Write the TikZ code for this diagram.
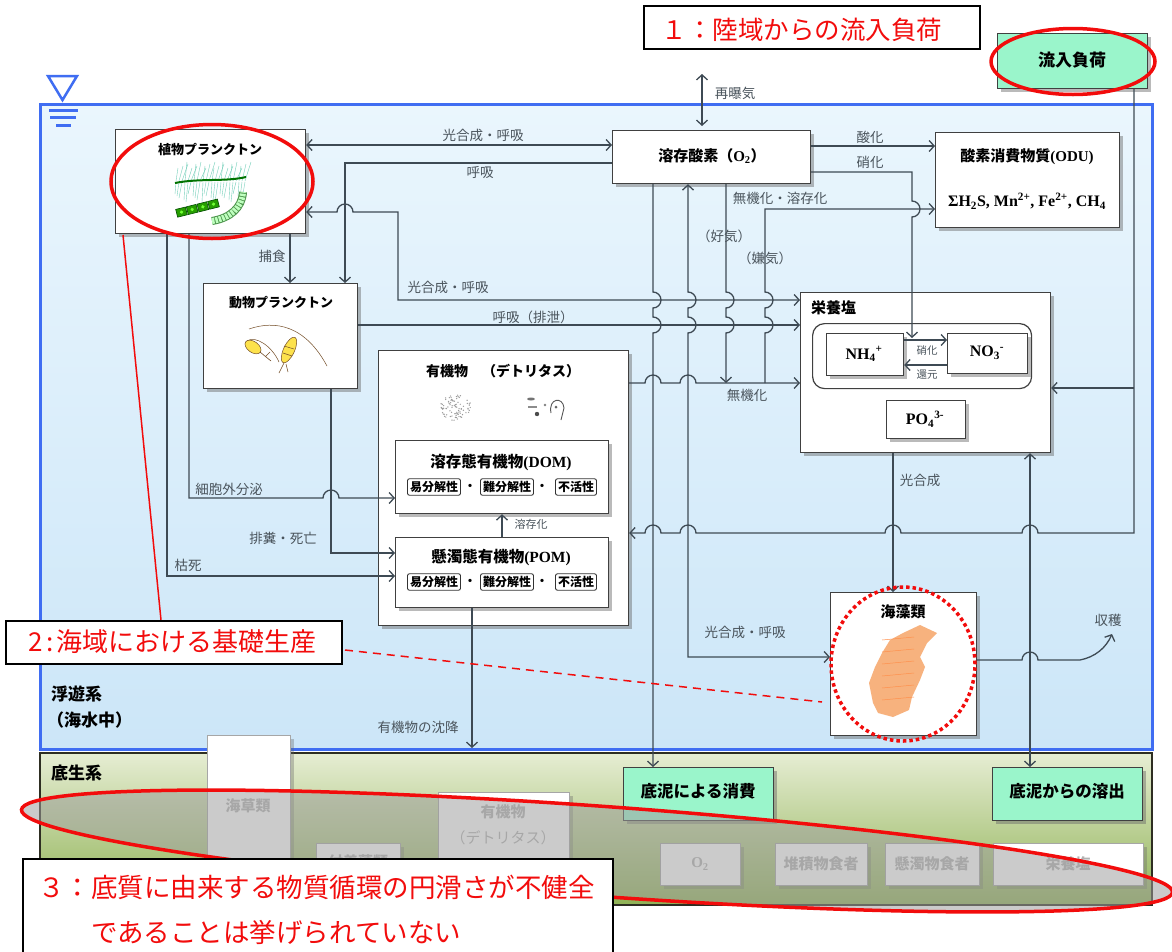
\documentclass[tikz,border=0pt]{standalone}
\usepackage{fontspec}
\setmainfont{Noto Sans CJK JP}
\newfontfamily\tm{Liberation Serif}
\usetikzlibrary{positioning,arrows.meta,shadows}

\newcommand\fsz[1]{\fontsize{#1}{#1}\selectfont}
% line hops over crossing wires (radius 8)
\newcommand\hopE[2]{-- (#1-8,#2) arc[start angle=180,end angle=0,radius=8pt]}
\newcommand\hopW[2]{-- (#1+8,#2) arc[start angle=0,end angle=180,radius=8pt]}
\newcommand\hopS[2]{-- (#1,#2-8) arc[start angle=90,end angle=-90,radius=8pt]}
\newcommand\hopN[2]{-- (#1,#2+8) arc[start angle=-90,end angle=90,radius=8pt]}

\definecolor{lineC}{HTML}{3E4A54}
\definecolor{labelC}{HTML}{4A545C}
\definecolor{seaTop}{HTML}{EAF6FD}
\definecolor{seaBot}{HTML}{CCE6F8}
\definecolor{seaEdge}{HTML}{3F6DF2}
\definecolor{mudTop}{HTML}{E6EDD3}
\definecolor{mudBot}{HTML}{8FB255}
\definecolor{mudEdge}{HTML}{2E2E22}
\definecolor{mint}{HTML}{9AF5CB}
\definecolor{noteRed}{HTML}{F20C0C}
\definecolor{kelp}{HTML}{F7B27E}

\tikzset{
  box/.style={draw=black!75, fill=white, line width=1.2pt, inner sep=0pt, anchor=north west,
    drop shadow={shadow xshift=3pt, shadow yshift=-3pt, fill=black!60, opacity=.45}},
  mintbox/.style={box, fill=mint},
  ghost/.style={draw=black!35, fill=white, line width=1pt, inner sep=0pt, anchor=north west,
    drop shadow={shadow xshift=3pt, shadow yshift=-3pt, fill=black!60, opacity=.35}},
  ghosttext/.style={text=black!30, font=\bfseries\fsz{15}, inner sep=0pt},
  title/.style={font=\bfseries\fsz{13}, inner sep=0pt},
  lbl/.style={text=labelC, font=\fsz{13.5}, inner sep=0pt},
  small/.style={text=labelC, font=\fsz{11}, inner sep=0pt},
  tag/.style={draw=black!80, rounded corners=2pt, line width=0.9pt, fill=white,
    font=\bfseries\fsz{12}, inner sep=2.5pt},
  flow/.style={draw=lineC, line width=1.3pt, -{Straight Barb[length=5pt,width=11pt]}},
  flow2/.style={flow, {Straight Barb[length=5pt,width=11pt]}-{Straight Barb[length=5pt,width=11pt]}},
  note/.style={draw=black, line width=1.8pt, fill=white, anchor=north west},
  notetext/.style={text=noteRed, inner sep=0pt},
  ring/.style={draw=noteRed, line width=3.5pt}
}

\begin{document}
\begin{tikzpicture}[x=1pt,y=-1pt]
\useasboundingbox (0,0) rectangle (1172,951);
\fill[white] (0,0) rectangle (1172,951);

% sediment and water column
\draw[mudEdge, line width=2.5pt, top color=mudTop, bottom color=mudBot] (40,753) rectangle (1152,905);
\draw[seaEdge, line width=3pt, top color=seaTop, bottom color=seaBot] (40,104) rectangle (1152,749);

% water surface mark
\draw[seaEdge, line width=2.5pt, line join=miter] (48,76) -- (77,76) -- (62.5,100) -- cycle;
\draw[seaEdge, line width=3pt] (49,110) -- (78,110) (50,117) -- (76,117) (56,125) -- (71,125);

\node[font=\bfseries\fsz{17}, anchor=west, inner sep=0pt] (pelagic) at (51,694) {浮遊系};
\node[font=\bfseries\fsz{17}, anchor=west, inner sep=0pt] at (47,720) {（海水中）};
\node[font=\bfseries\fsz{17}, anchor=west, inner sep=0pt] (benthic) at (51,773) {底生系};

% benthic compartments (greyed out)
\node[ghost, minimum width=83, minimum height=150] (grass) at (207,735) {};
\node[ghosttext] at (248,806) {海草類};
\node[ghost, minimum width=84, minimum height=40] (epi) at (316,843) {};
\node[ghosttext] at (358,862) {付着藻類};
\node[ghost, minimum width=131, minimum height=90] (detb) at (438,792) {};
\node[ghosttext] at (503,812) {有機物};
\node[ghosttext, font=\fsz{15}] at (503,838) {（デトリタス）};
\node[ghost, minimum width=80, minimum height=42] (o2b) at (660,843) {};
\node[ghosttext] at (700,864) {{\tm O\textsubscript{2}}};
\node[ghost, minimum width=92, minimum height=42] (dep) at (775,843) {};
\node[ghosttext] at (821,864) {堆積物食者};
\node[ghost, minimum width=94, minimum height=42] (sus) at (885,843) {};
\node[ghosttext] at (932,864) {懸濁物食者};
\node[ghost, minimum width=150, minimum height=42] (nutb) at (993,843) {};
\node[ghosttext] at (1068,864) {栄養塩};

\node[mintbox, minimum width=150, minimum height=53] (sedcons) at (623,767) {};
\node[font=\bfseries\fsz{16.5}, inner sep=0pt] at (698,791) {底泥による消費};
\node[mintbox, minimum width=150, minimum height=53] (sedrel) at (992,767) {};
\node[font=\bfseries\fsz{16.5}, inner sep=0pt] at (1067,791) {底泥からの溶出};

% pelagic compartments
\node[mintbox, minimum width=150, minimum height=55] (inflow) at (997,33) {};
\node[font=\bfseries\fsz{17}, inner sep=0pt] at (1072,60) {流入負荷};

\node[box, minimum width=190, minimum height=104] (phyto) at (115,129) {};
\node[title] at (210,149) {植物プランクトン};

\node[box, minimum width=154, minimum height=105] (zoo) at (203,283) {};
\node[title] at (281,303) {動物プランクトン};

\node[box, minimum width=198, minimum height=53] (o2) at (612,130) {};
\node[font=\bfseries\fsz{15}, inner sep=0pt] at (712,156) {溶存酸素（{\tm O\textsubscript{2}}）};

\node[box, minimum width=184, minimum height=95] (odu) at (935,132) {};
\node[font=\bfseries\fsz{15}, inner sep=0pt] at (1027,157) {酸素消費物質{\tm (ODU)}};
\node[font=\tm\bfseries\fsz{16}, inner sep=0pt] at (1027,201)
  {ΣH\textsubscript{2}S, Mn\textsuperscript{2+}, Fe\textsuperscript{2+}, CH\textsubscript{4}};

\node[box, minimum width=250, minimum height=275] (detritus) at (378,350) {};
\node[font=\bfseries\fsz{14}, inner sep=0pt] at (503,371) {有機物　（デトリタス）};
\node[box, minimum width=213, minimum height=73] (dom) at (395,440) {};
\node[font=\bfseries\fsz{15.5}, inner sep=0pt] at (501,462) {溶存態有機物{\tm (DOM)}};
\node[box, minimum width=213, minimum height=70] (pom) at (395,537) {};
\node[font=\bfseries\fsz{15.5}, inner sep=0pt] at (501,557) {懸濁態有機物{\tm (POM)}};
\foreach \row/\yy in {dom/487,pom/582}{
  \node[tag] (\row-easy) at (434,\yy) {易分解性};
  \node[tag] (\row-hard) at (507,\yy) {難分解性};
  \node[tag] (\row-inert) at (576,\yy) {不活性};
  \node[font=\bfseries\fsz{12}, inner sep=0pt] at (470,\yy) {・};
  \node[font=\bfseries\fsz{12}, inner sep=0pt] at (542,\yy) {・};
}

\node[box, minimum width=250, minimum height=160] (nutr) at (800,292) {};
\node[font=\bfseries\fsz{15}, anchor=west, inner sep=0pt] at (811,308) {栄養塩};
\node[draw=black!75, line width=1.2pt, rounded corners=12pt, anchor=north west,
  minimum width=219, minimum height=65] (ninner) at (812,323) {};
\node[box, minimum width=77, minimum height=42] (nh4) at (826,333) {};
\node[font=\tm\bfseries\fsz{16}, inner sep=0pt] at (864,354) {NH\textsubscript{4}\textsuperscript{+}};
\node[box, minimum width=80, minimum height=40] (no3) at (947,333) {};
\node[font=\tm\bfseries\fsz{16}, inner sep=0pt] at (987,353) {NO\textsubscript{3}\textsuperscript{-}};
\node[box, minimum width=79, minimum height=38] (po4) at (886,400) {};
\node[font=\tm\bfseries\fsz{16}, inner sep=0pt] at (925,419) {PO\textsubscript{4}\textsuperscript{3-}};

\node[box, minimum width=146, minimum height=143] (seaweed) at (830,592) {};
\node[font=\bfseries\fsz{15}, inner sep=0pt] at (903,612) {海藻類};

% phytoplankton sketch
\foreach \k in {0,...,23}{
  \pgfmathsetmacro\xa{176+3*\k}
  \draw[cyan!45!green!55, line width=0.4pt] (\xa,181) -- ++({2+mod(\k,3)*2},{-13-mod(\k,4)*2});
  \draw[cyan!45!green!55, line width=0.4pt] (\xa,182) -- ++({-1-mod(\k,3)},{12+mod(\k,5)*2});
}
\draw[green!45!black, line width=2pt] (175,183) .. controls (200,178) and (225,182) .. (246,177);
\begin{scope}[shift={(198,208)}, rotate=14]
  \foreach \k in {0,...,3}{
    \draw[green!30!black, fill=green!55!black!85!yellow, line width=0.6pt] (-22+11*\k,-4) rectangle ++(10,8);
    \fill[green!70!yellow!80] (-17+11*\k,0) circle (1.8pt);
  }
\end{scope}
\draw[green!40!black!70, line width=8pt] (212,221) .. controls (230,218) and (242,208) .. (243,192);
\draw[green!25!white, line width=6pt, dash pattern=on 2.5pt off 1pt] (212,221) .. controls (230,218) and (242,208) .. (243,192);

% zooplankton sketch
\draw[brown!60!black, line width=0.5pt] (249,329) .. controls (275,320) and (305,325) .. (327,366);
\draw[brown!60!black, line width=0.5pt] (247,341) .. controls (255,335) and (272,346) .. (279,362);
\draw[brown!60!black, fill=yellow!75!orange!70, line width=0.5pt, rotate around={-35:(253,347)}]
  (253,347) ellipse [x radius=9pt, y radius=5.5pt];
\draw[brown!60!black, line width=0.6pt] (260,352) -- (271,361) (266,356) -- (270,352);
\draw[brown!60!black, fill=yellow!75!orange!70, line width=0.5pt, rotate around={-25:(289,350)}]
  (289,350) ellipse [x radius=5.5pt, y radius=14pt];
\draw[brown!60!black, line width=0.5pt] (284,346) -- (294,349) (283,353) -- (292,356);
\draw[brown!60!black, line width=0.6pt] (284,363) -- (279,373) (286,364) -- (288,372);

% detritus sketch
\pgfmathsetseed{11}
\foreach \k in {1,...,90}{
  \pgfmathsetmacro\rr{16*sqrt(rnd)}
  \pgfmathsetmacro\aa{360*rnd}
  \fill[black!40] ({455+\rr*cos(\aa)},{407+0.85*\rr*sin(\aa)}) circle (0.7pt);
}
\fill[black!55] (531,399) ellipse [x radius=4pt, y radius=1.5pt];
\fill[black!70] (537,414) circle (2.2pt);
\fill[black!50] (545,405) circle (1.4pt);
\fill[black!45] (528,406) rectangle (537,408);
\draw[black!65, line width=0.9pt] (551,413) .. controls (548,398) and (563,396) .. (564,408) -- (561,420);
\fill[black!60] (556,407) circle (1.5pt);

% seaweed sketch
\fill[kelp] (920,625) -- (937,633) -- (927,643) -- (920,657) -- (925,667) -- (920,680)
  -- (912,697) -- (909,710) -- (893,717) -- (878,713) -- (873,703) -- (869,683)
  -- (875,667) -- (882,653) -- (890,640) -- (903,633) -- cycle;
\foreach \yy in {640,652,...,706}
  \draw[orange!75!red!70, line width=0.5pt] (882,\yy) -- (914,\yy-3);

% flows
\draw[flow2] (phyto.east |- 0,145) -- (o2.west |- 0,145);
\draw[flow] (o2.west |- 0,163) -- (345,163) -- (zoo.north -| 345,0);
\draw[flow2] (phyto.east |- 0,212) \hopE{345}{212} -- (398,212) -- (398,300) -- (nutr.west |- 0,300);
\draw[flow] (zoo.east |- 0,325) -- (nutr.west |- 0,325);
\draw[flow] (phyto.south -| 290,0) -- (zoo.north -| 290,0);
\draw[flow] (phyto.south -| 189,0) -- (189,498) \hopE{331}{498} -- (dom.west |- 0,498);
\draw[flow] (phyto.south -| 167,0) -- (167,576) -- (pom.west |- 0,576);
\draw[flow] (zoo.south -| 331,0) -- (331,553) -- (pom.west |- 0,553);
\draw[flow] (pom.north -| 502,0) -- (dom.south -| 502,0);
\coordinate (sink) at (472,748);
\draw[flow] (pom.south -| 472,0) -- (sink);

% mineralisation and oxygen
\draw[flow] (detritus.east |- 0,383) \hopE{653}{383} \hopE{688}{383} -- (nutr.west |- 0,383);
\coordinate (junc) at (765,383);
\draw[flow] (o2.south -| 726,0) \hopS{726}{300} \hopS{726}{325} -- (726,383);
\draw[flow] (junc) \hopN{765}{325} \hopN{765}{300} -- (765,209) -- (odu.west |- 0,209);
\draw[flow] (o2.east |- 0,146) -- (odu.west |- 0,146);
\coordinate (nitin) at (912,338);
\draw[flow] (o2.east |- 0,172) -- (912,172) \hopS{912}{209} -- (nitin);
\draw[flow] (o2.south -| 653,0) \hopS{653}{300} \hopS{653}{325} -- (sedcons.north -| 653,0);
\draw[flow2] (o2.south -| 688,0) \hopS{688}{300} \hopS{688}{325} -- (688,657) -- (seaweed.west |- 0,657);
\coordinate (air) at (702,74);
\draw[flow2, shorten >=4pt] (air) -- (o2.north -| 702,0);

% loads, nutrients, seaweed
\coordinate (tap) at (1134,388);
\draw[flow] (inflow.south -| 1134,0) -- (1134,533) \hopW{1030}{533} \hopW{893}{533}
  \hopW{688}{533} \hopW{653}{533} -- (detritus.east |- 0,533);
\draw[flow] (tap) -- (nutr.east |- tap);
\draw[flow] (nutr.south -| 893,0) -- (seaweed.north -| 893,0);
\draw[flow2] (nutr.south -| 1030,0) -- (sedrel.north -| 1030,0);
\coordinate (harvest) at (1112,634);
\draw[flow] (seaweed.east |- 0,660) \hopE{1030}{660} -- (1080,660) .. controls (1095,657) and (1106,648) .. (harvest);
\draw[flow] (nh4.east |- 0,340) -- (no3.west |- 0,340);
\draw[flow] (no3.west |- 0,365) -- (nh4.east |- 0,365);

% flow labels
\node[lbl] at (483,135) {光合成・呼吸};
\node[lbl] at (480,173) {呼吸};
\node[lbl] at (448,287) {光合成・呼吸};
\node[lbl] at (533,317) {呼吸（排泄）};
\node[lbl] at (272,256) {捕食};
\node[lbl] at (229,489) {細胞外分泌};
\node[lbl] at (283,538) {排糞・死亡};
\node[lbl] at (188,565) {枯死};
\node[small] at (531,524) {溶存化};
\node[lbl] at (418,727) {有機物の沈降};
\node[lbl] at (747,395) {無機化};
\node[lbl] at (780,198) {無機化・溶存化};
\node[lbl] at (724,236) {（好気）};
\node[lbl] at (765,258) {（嫌気）};
\node[lbl] at (870,137) {酸化};
\node[lbl] at (870,162) {硝化};
\node[lbl] at (735,93) {再曝気};
\node[lbl] at (745,632) {光合成・呼吸};
\node[lbl] at (920,480) {光合成};
\node[lbl] at (1108,620) {収穫};
\node[small, font=\fsz{10.5}] at (927,351) {硝化};
\node[small, font=\fsz{10.5}] at (927,375) {還元};

% greyed sediment zone
\draw[noteRed, line width=3.5pt, fill=black!38, fill opacity=0.53, rotate around={-4.1:(597,851)}]
  (597,851) ellipse [x radius=577pt, y radius=45pt];

% highlights
\draw[ring] (212,181.5) ellipse [x radius=101pt, y radius=57pt];
\draw[ring] (1073,61.5) ellipse [x radius=82pt, y radius=33pt];
\draw[ring, dash pattern=on 3.5pt off 3pt] (903,664) ellipse [x radius=72pt, y radius=77pt];
\draw[noteRed, line width=1.5pt] (123,235) -- (161,620);
\draw[noteRed, line width=1.5pt, dash pattern=on 8pt off 6pt] (345,650) -- (822,702);

% notes
\node[note, minimum width=336, minimum height=43] (note1) at (643,5) {};
\node[notetext, font=\fsz{25.5}, anchor=base] at (802,39) {１：陸域からの流入負荷};
\node[note, minimum width=336, minimum height=43] (note2) at (5,620) {};
\node[notetext, font=\fsz{26}, anchor=base west] at (28,651) {2\hspace{4pt}:\hspace{3pt}海域における基礎生産};
\node[note, minimum width=590, minimum height=110] (note3) at (22,858) {};
\node[notetext, font=\fsz{26.5}, anchor=base west] at (38,897) {３：底質に由来する物質循環の円滑さが不健全};
\node[notetext, font=\fsz{26.5}, anchor=base west] at (91,942) {であることは挙げられていない};
\end{tikzpicture}
\end{document}
